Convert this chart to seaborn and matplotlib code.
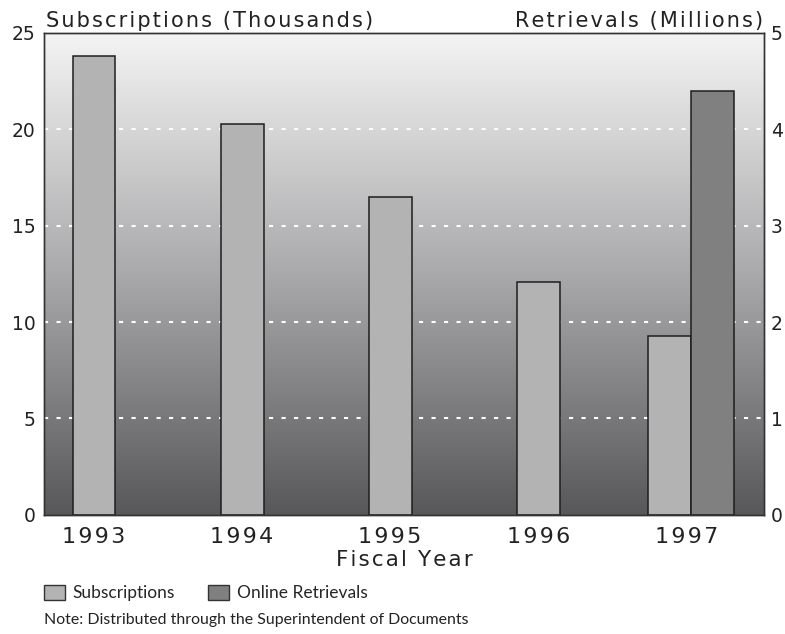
#!/usr/bin/env python3

import numpy as np
import pandas as pd
import matplotlib
matplotlib.use("Agg")
import matplotlib.pyplot as plt
from matplotlib.colors import LinearSegmentedColormap
from matplotlib.patches import Patch
import seaborn as sns

# data
years = ["1993", "1994", "1995", "1996", "1997"]
subscriptions = [23.8, 20.3, 16.5, 12.1, 9.3]      # thousands, left axis
retrievals = [np.nan, np.nan, np.nan, np.nan, 4.4]  # millions, right axis
left_ticks = [0, 5, 10, 15, 20, 25]
right_ticks = [0, 1, 2, 3, 4, 5]

SUB_COLOR = "#b3b3b3"
RET_COLOR = "#808080"
EDGE = "#1e1e1e"
TEXT = "#222222"
BAR_W = 0.29


def spaced(s):
    # fake letter spacing with hair spaces
    return "\u200a".join(s)


sns.set_style("white")
plt.rcParams["font.family"] = ["DejaVu Sans"]

df = pd.DataFrame({"year": years, "subs": subscriptions, "ret": retrievals})

fig, ax = plt.subplots(figsize=(7.85, 6.34), dpi=100)
fig.subplots_adjust(left=0.056, right=0.973, bottom=0.188, top=0.948)

sns.barplot(data=df, x="year", y="subs", order=years, ax=ax, color=SUB_COLOR,
            saturation=1, width=BAR_W, edgecolor=EDGE, linewidth=1.1,
            errorbar=None, zorder=2)

ax2 = ax.twinx()
sns.barplot(data=df, x="year", y="ret", order=years, ax=ax2, color=RET_COLOR,
            saturation=1, width=BAR_W, edgecolor=EDGE, linewidth=1.1,
            errorbar=None, zorder=2)

# where both series exist, put the pair side by side
both = df["subs"].notna() & df["ret"].notna()
sub_bars = list(ax.patches)
ret_bars = list(ax2.patches)
ret_idx = [i for i in range(len(years)) if pd.notna(retrievals[i])]
for i in range(len(years)):
    if both[i]:
        b = sub_bars[i]
        b.set_x(b.get_x() - BAR_W / 2 + 0.03)
for bar, i in zip(ret_bars, ret_idx):
    if both[i]:
        bar.set_x(bar.get_x() + BAR_W / 2 + 0.03)

xlim = (-0.338, 4.524)
ax.set_xlim(*xlim)
ax.set_ylim(0, 25)
ax2.set_ylim(0, 5)

# gradient background
cmap = LinearSegmentedColormap.from_list("bg", ["#58585a", "#a9a9ab", "#f4f4f4"])
grad = np.linspace(0, 1, 256).reshape(-1, 1)
ax.imshow(grad, extent=[xlim[0], xlim[1], 0, 25], origin="lower",
          aspect="auto", cmap=cmap, zorder=0.1)
ax.set_xlim(*xlim)
ax.set_ylim(0, 25)

ax.set_yticks(left_ticks)
ax2.set_yticks(right_ticks)
ax.set_axisbelow(True)
ax.yaxis.grid(True, color="white", linestyle=(0, (2, 4)), linewidth=1.5)
ax.xaxis.grid(False)
ax2.grid(False)
# no dotted line on the frame itself
glines = ax.yaxis.get_gridlines()
glines[0].set_visible(False)
glines[-1].set_visible(False)

ax.set_xticks(range(len(years)))
ax.set_xticklabels([spaced(y) for y in years], fontsize=16, color=TEXT)
ax.tick_params(axis="x", length=0, pad=9)
ax.tick_params(axis="y", length=0, pad=6, labelsize=13.5, labelcolor=TEXT)
ax2.tick_params(axis="y", length=0, pad=5, labelsize=13.5, labelcolor=TEXT)
ax.set_xlabel("")
ax.set_ylabel("")
ax2.set_ylabel("")
ax.set_xlabel(spaced("Fiscal Year"), fontsize=15.5, color=TEXT, labelpad=2)

for a in (ax, ax2):
    for sp in a.spines.values():
        sp.set_color("#333333")
        sp.set_linewidth(1.0)

fig.text(46 / 785, 1 - 27 / 634, spaced("Subscriptions (Thousands)"),
         fontsize=15, color=TEXT, ha="left", va="baseline")
fig.text(763 / 785, 1 - 27 / 634, spaced("Retrievals (Millions)"),
         fontsize=15, color=TEXT, ha="right", va="baseline")

handles = [Patch(facecolor=SUB_COLOR, edgecolor="#333333", label="Subscriptions"),
           Patch(facecolor=RET_COLOR, edgecolor="#333333", label="Online Retrievals")]
ax.legend(handles=handles, ncol=2, frameon=False, loc="center left",
          bbox_to_anchor=(44 / 785, 1 - 593 / 634), bbox_transform=fig.transFigure,
          borderpad=0, borderaxespad=0, handlelength=1.2, handleheight=1.0,
          handletextpad=0.45, columnspacing=1.9,
          prop={"family": ["Lato", "DejaVu Sans"], "size": 12.5})

fig.text(44 / 785, 1 - 620 / 634,
         "Note: Distributed through the Superintendent of Documents",
         fontsize=11.4, family=["Lato", "DejaVu Sans"], color=TEXT,
         ha="left", va="center")

fig.savefig("out.png", dpi=100)
